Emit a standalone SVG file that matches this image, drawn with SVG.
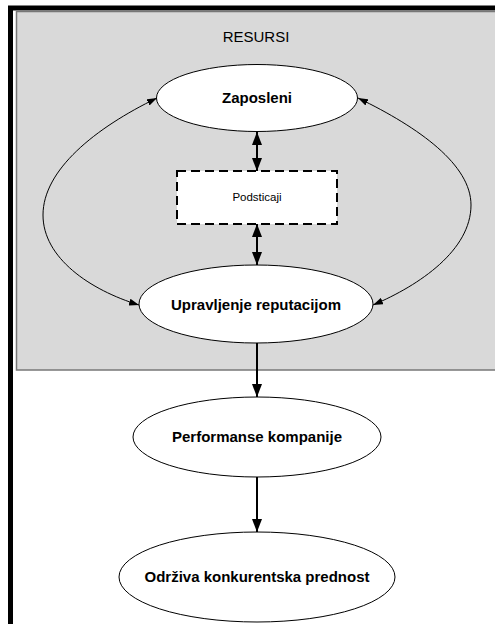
<svg xmlns="http://www.w3.org/2000/svg" width="495" height="624" viewBox="0 0 495 624">
  <style>
    text { font-family: "Liberation Sans", Arial, sans-serif; fill: #000; text-anchor: middle; }
    .node { fill: #fff; stroke: #000; stroke-width: 1; }
    .bold { font-weight: bold; font-size: 15px; }
    .thick { stroke: #000; stroke-width: 2; fill: none; }
    .thin { stroke: #000; stroke-width: 1; fill: none; }
  </style>
  <defs>
    <marker id="bigHead" viewBox="0 0 13 10" refX="13" refY="5" markerWidth="13" markerHeight="10" markerUnits="userSpaceOnUse" orient="auto-start-reverse">
      <path d="M0,0 L13,5 L0,10 Z" fill="#000"/>
    </marker>
    <marker id="smallHead" viewBox="0 0 10 7" refX="10" refY="3.5" markerWidth="10" markerHeight="7" markerUnits="userSpaceOnUse" orient="auto-start-reverse">
      <path d="M0,0 L10,3.5 L0,7 Z" fill="#000"/>
    </marker>
  </defs>

  <rect x="0" y="0" width="495" height="624" fill="#fff"/>

  <!-- outer frame -->
  <path d="M10.5,624 V8 H495" fill="none" stroke="#000" stroke-width="5"/>

  <!-- resources area -->
  <g id="resursi">
    <rect x="16.5" y="11.5" width="490" height="358.5" fill="#d9d9d9" stroke="#777" stroke-width="1.5"/>
    <text x="256" y="42" font-size="15">RESURSI</text>
  </g>

  <g id="connectors">
    <path class="thin" d="M157,98 C95,128 43,170 43,215 C43,258 90,290 139,305" marker-start="url(#smallHead)" marker-end="url(#smallHead)"/>
    <path class="thin" d="M358,98 C420,128 471,165 471,205 C471,250 420,285 373,305" marker-start="url(#smallHead)" marker-end="url(#smallHead)"/>
    <line class="thick" x1="257" y1="132" x2="257" y2="171" marker-start="url(#bigHead)" marker-end="url(#bigHead)"/>
    <line class="thick" x1="257" y1="224" x2="257" y2="265" marker-start="url(#bigHead)" marker-end="url(#bigHead)"/>
    <line class="thick" x1="257" y1="343" x2="257" y2="397" marker-end="url(#bigHead)"/>
    <line class="thick" x1="257" y1="477" x2="257" y2="532" marker-end="url(#bigHead)"/>
  </g>

  <g id="zaposleni">
    <ellipse class="node" cx="257" cy="98" rx="100.5" ry="33.5"/>
    <text class="bold" x="257" y="103">Zaposleni</text>
  </g>

  <g id="podsticaji">
    <rect x="177" y="171" width="160" height="53" fill="#fff" stroke="#000" stroke-width="2" stroke-dasharray="9,5"/>
    <text x="257" y="201" font-size="11.5">Podsticaji</text>
  </g>

  <g id="upravljenje">
    <ellipse class="node" cx="256" cy="304" rx="117" ry="39"/>
    <text class="bold" x="256" y="310">Upravljenje reputacijom</text>
  </g>

  <g id="performanse">
    <ellipse class="node" cx="257" cy="437" rx="124" ry="40"/>
    <text class="bold" x="257" y="442">Performanse kompanije</text>
  </g>

  <g id="odrziva">
    <ellipse class="node" cx="257" cy="577" rx="138" ry="45"/>
    <text class="bold" x="257" y="582">Održiva konkurentska prednost</text>
  </g>
</svg>
